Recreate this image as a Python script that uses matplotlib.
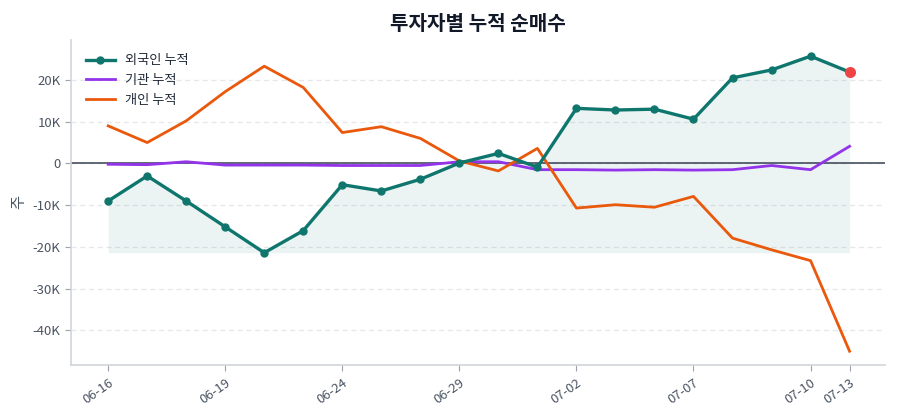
import matplotlib
matplotlib.use("Agg")
import matplotlib.pyplot as plt
from matplotlib.ticker import FuncFormatter, MultipleLocator
import numpy as np

plt.rcParams['font.family'] = ['Noto Sans CJK KR', 'DejaVu Sans']
plt.rcParams['axes.unicode_minus'] = False

dates = ["06-16", "06-17", "06-18", "06-19", "06-20", "06-23", "06-24", "06-25",
         "06-26", "06-29", "06-30", "07-01", "07-02", "07-03", "07-06", "07-07",
         "07-08", "07-09", "07-10", "07-13"]
foreign = [-9.0, -3.0, -9.0, -15.2, -21.4, -16.1, -5.1, -6.6, -3.8, 0.1,
           2.4, -0.9, 13.2, 12.8, 13.0, 10.6, 20.5, 22.4, 25.7, 21.9]
institution = [-0.2, -0.3, 0.4, -0.4, -0.4, -0.4, -0.5, -0.5, -0.5, 0.4,
               0.4, -1.5, -1.5, -1.6, -1.5, -1.6, -1.5, -0.5, -1.5, 4.1]
individual = [9.0, 5.0, 10.2, 17.2, 23.3, 18.2, 7.4, 8.8, 6.0, 0.6,
              -1.8, 3.6, -10.7, -9.9, -10.5, -7.9, -17.9, -20.7, -23.3, -45.0]

scale = 1000
f = np.array(foreign) * scale
ins = np.array(institution) * scale
ind = np.array(individual) * scale
x = np.arange(len(dates))

c_for = "#0f766e"
c_ins = "#9333ea"
c_ind = "#ea580c"
c_last = "#ef4444"
txt = "#4b5563"

fig = plt.figure(figsize=(9, 4.2), dpi=100)
ax = fig.add_axes([0.079, 0.131, 0.904, 0.774])

ax.fill_between(x, f, f.min(), color=c_for, alpha=0.08, linewidth=0)
ax.plot(x, f, color=c_for, lw=2.4, marker='o', ms=5, label="외국인 누적", zorder=4)
ax.plot(x, ins, color=c_ins, lw=2, label="기관 누적", zorder=3)
ax.plot(x, ind, color=c_ind, lw=2, label="개인 누적", zorder=3)
ax.scatter([x[-1]], [f[-1]], s=48, color=c_last, zorder=5)
ax.axhline(0, color="#374151", lw=1.1, zorder=2)

ax.set_xlim(-0.95, 19.9)
ax.set_ylim(-48300, 29600)
ax.yaxis.set_major_locator(MultipleLocator(10000))
ax.yaxis.set_major_formatter(FuncFormatter(lambda v, p: "0" if abs(v) < 1 else f"{v/1000:.0f}K"))

ticks = list(range(0, len(dates), 3))
if ticks[-1] != len(dates) - 1:
    ticks.append(len(dates) - 1)
ax.set_xticks(ticks)
ax.set_xticklabels([dates[i] for i in ticks], rotation=35, ha='right', rotation_mode='anchor')

ax.grid(axis='y', linestyle=(0, (4, 3)), color="#e5e7eb", lw=0.9)
ax.set_axisbelow(True)
for s in ['top', 'right']:
    ax.spines[s].set_visible(False)
for s in ['left', 'bottom']:
    ax.spines[s].set_color("#d1d5db")
    ax.spines[s].set_linewidth(1.2)
ax.tick_params(colors=txt, labelsize=9.5, length=4, color="#9ca3af")
ax.tick_params(axis='x', pad=4)

ax.set_ylabel("주", color=txt, fontsize=11)
ax.set_title("투자자별 누적 순매수", fontsize=14.5, fontweight='bold', color="#111827", pad=7)

leg = ax.legend(loc='upper left', frameon=False, fontsize=9.5, handlelength=2.2,
                borderaxespad=0.7, labelspacing=0.5)
for t in leg.get_texts():
    t.set_color("#1f2937")

fig.savefig("out.png", dpi=100)
